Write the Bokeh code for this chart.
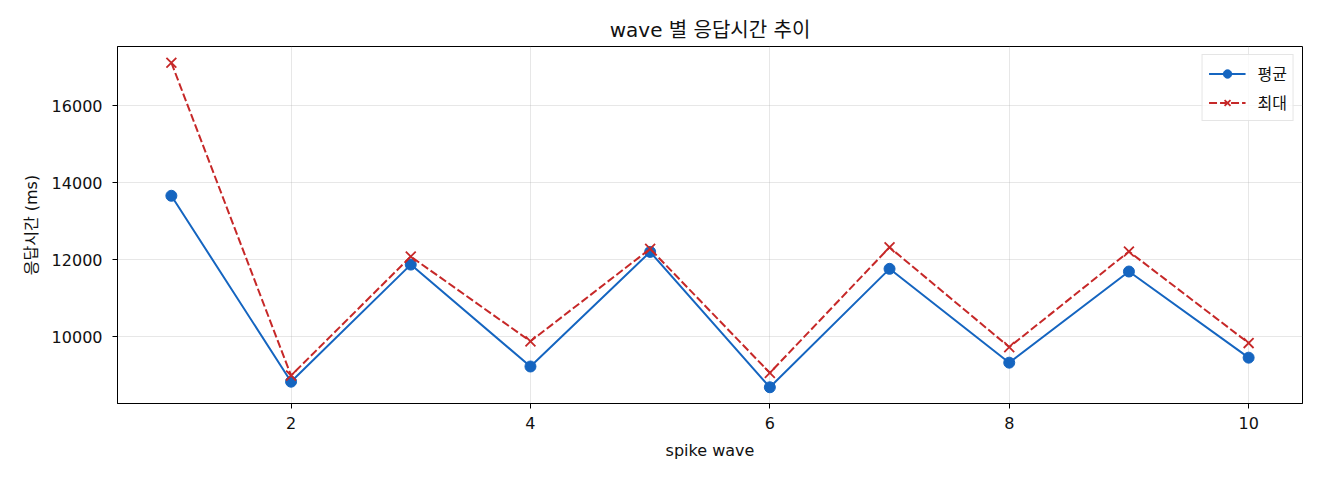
#!/usr/bin/env python3
"""Response time per spike wave: mean and max."""

from bokeh.plotting import figure
from bokeh.embed import file_html
from bokeh.resources import INLINE
from bokeh.models import ColumnDataSource, FixedTicker, Range1d

# Data
waves = [1, 2, 3, 4, 5, 6, 7, 8, 9, 10]
mean_ms = [13660, 8825, 11870, 9220, 12200, 8680, 11760, 9320, 11690, 9450]
max_ms = [17120, 8985, 12080, 9875, 12280, 9055, 12320, 9725, 12210, 9830]

x_ticks = [2, 4, 6, 8, 10]
y_ticks = [10000, 12000, 14000, 16000]

# wide latin glyphs, CJK fallback for the Korean text
FONT = "'DejaVu Sans', 'Noto Sans CJK KR', sans-serif"
BLUE = "#1565c0"
RED = "#c62828"
TEXT = "#111111"

source = ColumnDataSource(data=dict(wave=waves, mean=mean_ms, max=max_ms))

# matplotlib-like 5% padding around the data
x_pad = 0.05 * (max(waves) - min(waves))
all_y = mean_ms + max_ms
y_pad = 0.05 * (max(all_y) - min(all_y))

p = figure(
    width=1312,
    height=472,
    title="wave 별 응답시간 추이",
    x_axis_label="spike wave",
    y_axis_label="응답시간 (ms)",
    x_range=Range1d(min(waves) - x_pad, max(waves) + x_pad),
    y_range=Range1d(min(all_y) - y_pad, max(all_y) + y_pad),
    output_backend="svg",
    toolbar_location=None,
    min_border_left=117,
    min_border_right=10,
    min_border_top=46,
    min_border_bottom=69,
)

# Title
p.title.text_font = FONT
p.title.text_font_size = "20px"
p.title.text_font_style = "normal"
p.title.text_color = TEXT
p.title.align = "center"
p.title.standoff = 10

# Frame
p.outline_line_color = "black"
p.outline_line_width = 1
p.outline_line_alpha = 1

# Axes
for ax in (p.xaxis[0], p.yaxis[0]):
    ax.axis_line_color = "black"
    ax.major_tick_line_color = "black"
    ax.major_tick_in = 0
    ax.major_tick_out = 5
    ax.minor_tick_line_color = None
    ax.major_label_text_font = FONT
    ax.major_label_text_font_size = "16px"
    ax.major_label_text_color = TEXT
    ax.axis_label_text_font = FONT
    ax.axis_label_text_font_size = "16px"
    ax.axis_label_text_font_style = "normal"
    ax.axis_label_text_color = TEXT

p.xaxis.ticker = FixedTicker(ticks=x_ticks)
p.yaxis.ticker = FixedTicker(ticks=y_ticks)
p.xaxis.major_label_standoff = 8
p.yaxis.major_label_standoff = 10
p.xaxis.axis_label_standoff = 9
p.yaxis.axis_label_standoff = 8

# Grid
p.grid.grid_line_color = "#b0b0b0"
p.grid.grid_line_alpha = 0.3
p.grid.grid_line_width = 1

# Mean series: solid line with circles
p.line(
    x="wave", y="mean", source=source,
    line_color=BLUE, line_width=2, legend_label="평균",
)
p.scatter(
    x="wave", y="mean", source=source, marker="circle", size=11,
    fill_color=BLUE, line_color=BLUE, legend_label="평균",
)

# Max series: dashed line with x markers
p.line(
    x="wave", y="max", source=source,
    line_color=RED, line_width=2, line_dash="8 3", legend_label="최대",
)
p.scatter(
    x="wave", y="max", source=source, marker="x", size=14,
    line_color=RED, line_width=1.8, legend_label="최대",
)

# Legend
p.legend.location = "top_right"
p.legend.margin = 8
p.legend.padding = 6
p.legend.spacing = 5
p.legend.glyph_width = 37
p.legend.glyph_height = 21
p.legend.label_standoff = 12
p.legend.label_text_font = FONT
p.legend.label_text_font_size = "16px"
p.legend.label_text_color = TEXT
p.legend.border_line_color = "#cccccc"
p.legend.border_line_width = 1
p.legend.background_fill_color = "white"
p.legend.background_fill_alpha = 0.8

open("out.html", "w").write(file_html(p, INLINE))
